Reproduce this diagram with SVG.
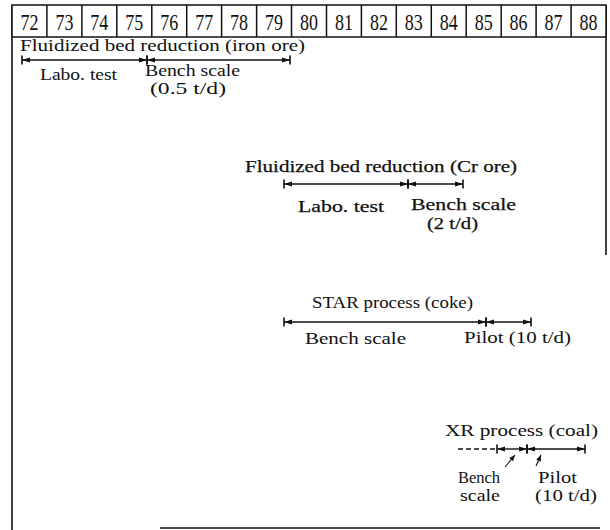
<svg xmlns="http://www.w3.org/2000/svg" width="610" height="530" viewBox="0 0 610 530">
<style>
.t{font-family:"Liberation Serif","Times New Roman",serif;fill:#111}
.y{font-family:"Liberation Serif","Times New Roman",serif;fill:#111;font-size:23px;text-anchor:middle}
.l{font-size:17px}
.s{font-size:16px}
.b{stroke:#111;stroke-width:0.25}
.frame{fill:none;stroke:#111;stroke-width:1.6}
.cell{fill:#fff;stroke:#111;stroke-width:1.5}
.seg{stroke:#111;stroke-width:1.4;fill:none;marker-start:url(#ms);marker-end:url(#me)}
.dash{stroke:#111;stroke-width:1.3;stroke-dasharray:5,3;fill:none}
.ptr{stroke:#111;stroke-width:1.1;fill:none;marker-end:url(#pa)}
</style>
<defs>
<marker id="ms" markerUnits="userSpaceOnUse" markerWidth="12" markerHeight="12" orient="auto" overflow="visible">
<path d="M0,-4.5V4.5" stroke="#111" stroke-width="1.6"/>
<path d="M0,0L8,-2.5L8,2.5Z" fill="#111"/>
</marker>
<marker id="me" markerUnits="userSpaceOnUse" markerWidth="12" markerHeight="12" orient="auto" overflow="visible">
<path d="M0,-4.5V4.5" stroke="#111" stroke-width="1.6"/>
<path d="M0,0L-8,-2.5L-8,2.5Z" fill="#111"/>
</marker>
<marker id="pa" markerUnits="userSpaceOnUse" markerWidth="10" markerHeight="10" orient="auto" overflow="visible">
<path d="M0,0L-6,-2.5L-6,2.5Z" fill="#111"/>
</marker>
</defs>
<rect width="610" height="530" fill="#fff"/>
<g id="frame">
<line class="frame" x1="12" y1="5" x2="12" y2="530"/>
<line class="frame" x1="606" y1="5" x2="606" y2="255"/>
<line class="frame" x1="160" y1="528" x2="600" y2="528"/>
</g>
<g id="years">
<rect class="cell" x="12" y="5" width="594" height="32"/>
<g stroke="#111" stroke-width="1.5">
<line x1="46.9" y1="5" x2="46.9" y2="37"/><line x1="81.9" y1="5" x2="81.9" y2="37"/><line x1="116.8" y1="5" x2="116.8" y2="37"/><line x1="151.8" y1="5" x2="151.8" y2="37"/><line x1="186.7" y1="5" x2="186.7" y2="37"/><line x1="221.6" y1="5" x2="221.6" y2="37"/><line x1="256.6" y1="5" x2="256.6" y2="37"/><line x1="291.5" y1="5" x2="291.5" y2="37"/><line x1="326.5" y1="5" x2="326.5" y2="37"/><line x1="361.4" y1="5" x2="361.4" y2="37"/><line x1="396.3" y1="5" x2="396.3" y2="37"/><line x1="431.3" y1="5" x2="431.3" y2="37"/><line x1="466.2" y1="5" x2="466.2" y2="37"/><line x1="501.2" y1="5" x2="501.2" y2="37"/><line x1="536.1" y1="5" x2="536.1" y2="37"/><line x1="571.1" y1="5" x2="571.1" y2="37"/>
</g>
<text class="y" x="29.5" y="29.5" textLength="18" lengthAdjust="spacingAndGlyphs">72</text><text class="y" x="64.4" y="29.5" textLength="18" lengthAdjust="spacingAndGlyphs">73</text><text class="y" x="99.3" y="29.5" textLength="18" lengthAdjust="spacingAndGlyphs">74</text><text class="y" x="134.3" y="29.5" textLength="18" lengthAdjust="spacingAndGlyphs">75</text><text class="y" x="169.2" y="29.5" textLength="18" lengthAdjust="spacingAndGlyphs">76</text><text class="y" x="204.2" y="29.5" textLength="18" lengthAdjust="spacingAndGlyphs">77</text><text class="y" x="239.1" y="29.5" textLength="18" lengthAdjust="spacingAndGlyphs">78</text><text class="y" x="274" y="29.5" textLength="18" lengthAdjust="spacingAndGlyphs">79</text><text class="y" x="309" y="29.5" textLength="18" lengthAdjust="spacingAndGlyphs">80</text><text class="y" x="343.9" y="29.5" textLength="18" lengthAdjust="spacingAndGlyphs">81</text><text class="y" x="378.9" y="29.5" textLength="18" lengthAdjust="spacingAndGlyphs">82</text><text class="y" x="413.8" y="29.5" textLength="18" lengthAdjust="spacingAndGlyphs">83</text><text class="y" x="448.7" y="29.5" textLength="18" lengthAdjust="spacingAndGlyphs">84</text><text class="y" x="483.7" y="29.5" textLength="18" lengthAdjust="spacingAndGlyphs">85</text><text class="y" x="518.6" y="29.5" textLength="18" lengthAdjust="spacingAndGlyphs">86</text><text class="y" x="553.6" y="29.5" textLength="18" lengthAdjust="spacingAndGlyphs">87</text><text class="y" x="588.5" y="29.5" textLength="18" lengthAdjust="spacingAndGlyphs">88</text>
</g>
<g id="iron-ore">
<text class="t l" x="20" y="51" textLength="285" lengthAdjust="spacingAndGlyphs">Fluidized bed reduction (iron ore)</text>
<text class="t s" x="40" y="80" textLength="77" lengthAdjust="spacingAndGlyphs">Labo. test</text>
<text class="t s" x="145" y="76" textLength="95" lengthAdjust="spacingAndGlyphs">Bench scale</text>
<text class="t s" x="150" y="94" textLength="76" lengthAdjust="spacingAndGlyphs">(0.5 t/d)</text>
</g>
<g id="cr-ore">
<text class="t l b" x="245" y="172" textLength="272" lengthAdjust="spacingAndGlyphs">Fluidized bed reduction (Cr ore)</text>
<text class="t l b" x="298" y="212" textLength="86" lengthAdjust="spacingAndGlyphs">Labo. test</text>
<text class="t l b" x="411" y="210" textLength="105" lengthAdjust="spacingAndGlyphs">Bench scale</text>
<text class="t s b" x="427" y="229" textLength="51" lengthAdjust="spacingAndGlyphs">(2 t/d)</text>
</g>
<g id="star">
<text class="t l" x="312" y="308" textLength="161" lengthAdjust="spacingAndGlyphs">STAR process (coke)</text>
<text class="t l" x="305" y="344" textLength="101" lengthAdjust="spacingAndGlyphs">Bench scale</text>
<text class="t l" x="464" y="343" textLength="107" lengthAdjust="spacingAndGlyphs">Pilot (10 t/d)</text>
</g>
<g id="xr">
<text class="t l" x="445" y="436" textLength="153" lengthAdjust="spacingAndGlyphs">XR process (coal)</text>
<text class="t s" x="458" y="483" textLength="42" lengthAdjust="spacingAndGlyphs">Bench</text>
<text class="t s" x="460" y="501" textLength="40" lengthAdjust="spacingAndGlyphs">scale</text>
<text class="t s" x="538" y="483" textLength="39" lengthAdjust="spacingAndGlyphs">Pilot</text>
<text class="t s" x="535" y="501" textLength="62" lengthAdjust="spacingAndGlyphs">(10 t/d)</text>
</g>
<g id="connectors">
<line class="seg" x1="22" y1="60" x2="147" y2="60"/>
<line class="seg" x1="147" y1="60" x2="290" y2="60"/>
<line class="seg" x1="284" y1="184" x2="408" y2="184"/>
<line class="seg" x1="408" y1="184" x2="463" y2="184"/>
<line class="seg" x1="284" y1="322" x2="486" y2="322"/>
<line class="seg" x1="486" y1="322" x2="531" y2="322"/>
<line class="dash" x1="458" y1="449" x2="497" y2="449"/>
<line class="seg" x1="497" y1="449" x2="527" y2="449"/>
<line class="seg" x1="527" y1="449" x2="585" y2="449"/>
<line class="ptr" x1="505" y1="467" x2="515" y2="455"/>
<line class="ptr" x1="536" y1="466" x2="541" y2="455"/>
</g>
</svg>
